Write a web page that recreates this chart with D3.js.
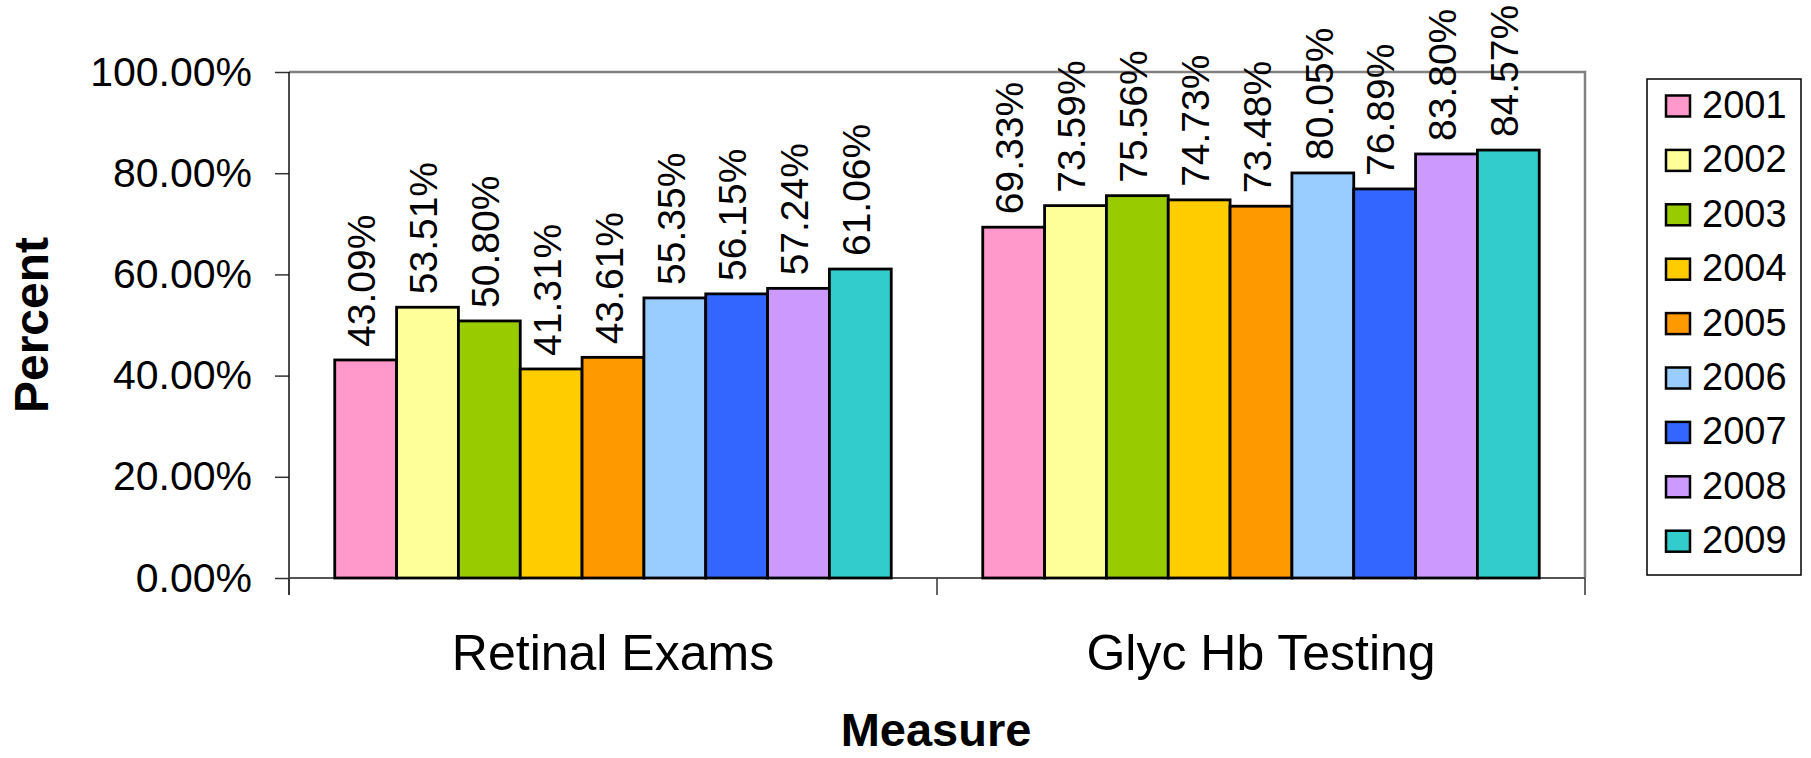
<!DOCTYPE html>
<html>
<head>
<meta charset="utf-8">
<script src="https://cdn.jsdelivr.net/npm/d3@7"></script>
<style>
  body { margin: 0; background: #fff; }
  svg { display: block; font-family: "Liberation Sans", Arial, sans-serif; }
</style>
</head>
<body>
<div id="chart"></div>
<script>
// Data
const measures = ['Retinal Exams', 'Glyc Hb Testing'];
const years = ['2001', '2002', '2003', '2004', '2005', '2006', '2007', '2008', '2009'];
const retinalExams = [43.09, 53.51, 50.80, 41.31, 43.61, 55.35, 56.15, 57.24, 61.06];
const glycHbTesting = [69.33, 73.59, 75.56, 74.73, 73.48, 80.05, 76.89, 83.80, 84.57];
const yTicks = [0, 20, 40, 60, 80, 100];
const yearColors = ['#FF99CC', '#FFFF99', '#99CC00', '#FFCC00', '#FF9900', '#99CCFF', '#3366FF', '#CC99FF', '#33CCCC'];

const seriesByMeasure = [retinalExams, glycHbTesting];
const rows = measures.map((m, i) => ({
  measure: m,
  values: years.map((y, j) => ({ year: y, value: seriesByMeasure[i][j] }))
}));

const width = 1811, height = 758;
const margin = { top: 72, right: 226, bottom: 180, left: 289 };
const innerW = width - margin.left - margin.right;
const innerH = height - margin.top - margin.bottom;

const svg = d3.select('#chart').append('svg')
  .attr('width', width)
  .attr('height', height);

const g = svg.append('g')
  .attr('transform', `translate(${margin.left},${margin.top})`);

// Scales
const x0 = d3.scaleBand()
  .domain(measures)
  .range([0, innerW])
  .padding(0);

const x1 = d3.scaleBand()
  .domain(years)
  .range([0, x0.bandwidth()])
  .paddingInner(0)
  .paddingOuter(0.74);

const y = d3.scaleLinear()
  .domain([0, 100])
  .range([innerH, 0]);

const color = d3.scaleOrdinal()
  .domain(years)
  .range(yearColors);

// Plot area border (gray top/right)
g.append('path')
  .attr('d', `M0,0H${innerW}V${innerH}`)
  .attr('fill', 'none')
  .attr('stroke', '#808080')
  .attr('stroke-width', 2.5);

// Y axis
const yAxis = d3.axisLeft(y)
  .tickValues(yTicks)
  .tickSize(14)
  .tickPadding(23)
  .tickFormat(d => d.toFixed(2) + '%');

const yAxisG = g.append('g').call(yAxis);
yAxisG.select('.domain').remove();
yAxisG.selectAll('line').attr('stroke', '#333').attr('stroke-width', 1.5);
yAxisG.selectAll('text')
  .attr('font-size', 41)
  .attr('fill', '#000')
  .attr('font-family', '"Liberation Sans", Arial, sans-serif');

g.append('line')
  .attr('x1', 0).attr('x2', 0)
  .attr('y1', 0).attr('y2', innerH + 17)
  .attr('stroke', '#111')
  .attr('stroke-width', 1.5);

// X axis (labels) and boundary ticks
const xAxis = d3.axisBottom(x0)
  .tickSize(0)
  .tickPadding(56);

const xAxisG = g.append('g')
  .attr('transform', `translate(0,${innerH})`)
  .call(xAxis);
xAxisG.select('.domain').remove();
xAxisG.selectAll('text')
  .attr('font-size', 50)
  .attr('fill', '#000')
  .attr('font-family', '"Liberation Sans", Arial, sans-serif');

g.append('line')
  .attr('x1', 0).attr('x2', innerW)
  .attr('y1', innerH).attr('y2', innerH)
  .attr('stroke', '#555')
  .attr('stroke-width', 2);

const boundaries = measures.map(m => x0(m)).concat([x0.range()[1]]);
g.selectAll('.xtick')
  .data(boundaries)
  .enter().append('line')
  .attr('class', 'xtick')
  .attr('x1', d => d).attr('x2', d => d)
  .attr('y1', innerH).attr('y2', innerH + 17)
  .attr('stroke', '#333')
  .attr('stroke-width', 1.5);

// Bars
const groups = g.selectAll('.group')
  .data(rows)
  .enter().append('g')
  .attr('class', 'group')
  .attr('transform', d => `translate(${x0(d.measure)},0)`);

groups.selectAll('rect')
  .data(d => d.values)
  .enter().append('rect')
  .attr('x', d => x1(d.year))
  .attr('y', d => y(d.value))
  .attr('width', x1.bandwidth())
  .attr('height', d => innerH - y(d.value))
  .attr('fill', d => color(d.year))
  .attr('stroke', '#000')
  .attr('stroke-width', 2.8);

// Value labels (rotated)
groups.selectAll('.val')
  .data(d => d.values)
  .enter().append('text')
  .attr('class', 'val')
  .attr('transform', d => `translate(${x1(d.year) + x1.bandwidth() / 2},${y(d.value) - 13}) rotate(-90)`)
  .attr('dy', '0.25em')
  .attr('font-size', 39)
  .attr('fill', '#000')
  .text(d => d.value.toFixed(2) + '%');

// Axis titles
svg.append('text')
  .attr('x', margin.left + innerW / 2 - 1)
  .attr('y', 746)
  .attr('text-anchor', 'middle')
  .attr('font-size', 47)
  .attr('font-weight', 'bold')
  .text('Measure');

svg.append('text')
  .attr('transform', `translate(48,${margin.top + innerH / 2}) rotate(-90)`)
  .attr('text-anchor', 'middle')
  .attr('font-size', 48)
  .attr('font-weight', 'bold')
  .text('Percent');

// Legend
const legend = svg.append('g')
  .attr('transform', 'translate(1647,79)');

legend.append('rect')
  .attr('width', 154)
  .attr('height', 496)
  .attr('fill', '#fff')
  .attr('stroke', '#000')
  .attr('stroke-width', 1.5);

const rowStep = 54.4;
const items = legend.selectAll('.item')
  .data(years)
  .enter().append('g')
  .attr('class', 'item')
  .attr('transform', (d, i) => `translate(0,${27.5 + i * rowStep})`);

items.append('rect')
  .attr('x', 19)
  .attr('y', -11)
  .attr('width', 24)
  .attr('height', 21)
  .attr('fill', d => color(d))
  .attr('stroke', '#000')
  .attr('stroke-width', 2.5);

items.append('text')
  .attr('x', 55)
  .attr('dy', '0.3em')
  .attr('font-size', 38)
  .attr('fill', '#000')
  .text(d => d);
</script>
</body>
</html>
